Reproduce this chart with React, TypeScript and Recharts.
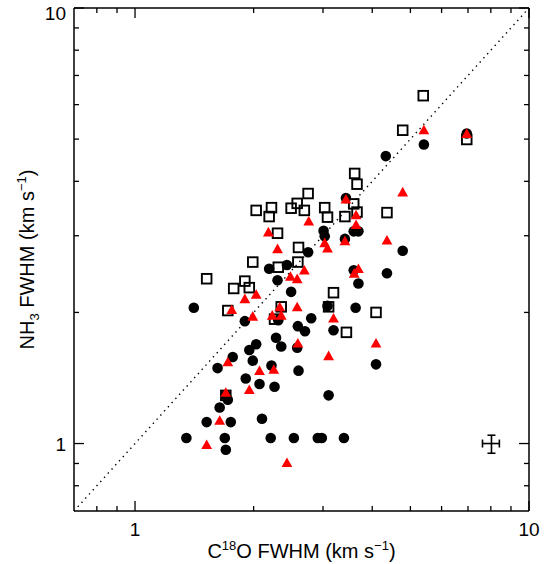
import React from 'react';
import { ScatterChart, Scatter, XAxis, YAxis, ReferenceLine, ErrorBar, Label } from 'recharts';

const FONT = '"Liberation Sans", Arial, Helvetica, sans-serif';

// axis ticks (log scale)
const xTicks = [0.8, 0.9, 1, 2, 3, 4, 5, 6, 7, 8, 9, 10];
const yTicks = [0.8, 0.9, 1, 2, 3, 4, 5, 6, 7, 8, 9, 10];
const majorTicks = [1, 10];
const axisDomain: [number, number] = [0.7, 10];

// filled black circles
const circleX = [5.41, 4.33, 6.95, 3.43, 3.01, 3.03, 3.41, 3.59, 3.69, 2.75, 4.78, 2.19, 2.43, 2.30, 3.59, 3.69, 4.36, 2.49, 1.41, 3.08, 3.63, 2.80, 1.90, 2.31, 2.59, 2.70, 3.19, 2.28, 2.35, 2.58, 2.03, 1.95, 1.77, 1.99, 1.62, 2.22, 2.60, 4.09, 1.91, 2.07, 2.26, 3.10, 1.70, 1.72, 1.64, 1.52, 1.75, 2.10, 1.35, 1.69, 1.70, 2.21, 2.53, 2.91, 2.98, 3.39];
const circleY = [4.86, 4.57, 5.15, 3.66, 3.08, 2.99, 2.95, 3.07, 3.07, 2.75, 2.77, 2.52, 2.57, 2.37, 2.50, 2.33, 2.46, 2.23, 2.05, 2.07, 2.05, 1.94, 1.91, 1.92, 1.86, 1.81, 1.82, 1.75, 1.67, 1.66, 1.69, 1.64, 1.58, 1.55, 1.49, 1.51, 1.47, 1.52, 1.41, 1.37, 1.35, 1.29, 1.29, 1.26, 1.21, 1.12, 1.12, 1.14, 1.03, 1.03, 0.968, 1.03, 1.03, 1.03, 1.03, 1.03];

// open squares
const squareX = [5.39, 4.78, 6.95, 3.61, 3.66, 2.75, 2.58, 2.49, 2.69, 2.03, 2.22, 2.19, 3.03, 3.08, 3.41, 3.59, 3.66, 4.36, 2.30, 2.60, 2.59, 1.99, 2.31, 1.52, 1.90, 1.78, 1.95, 3.19, 3.10, 2.35, 1.72, 4.09, 2.26, 3.44, 1.70];
const squareY = [6.29, 5.24, 4.99, 4.17, 3.94, 3.75, 3.56, 3.47, 3.43, 3.43, 3.48, 3.32, 3.48, 3.31, 3.32, 3.55, 3.40, 3.39, 3.04, 2.82, 2.61, 2.61, 2.54, 2.39, 2.36, 2.27, 2.28, 2.22, 2.06, 2.06, 2.02, 2.00, 1.93, 1.80, 1.29];

// red triangles
const triX = [5.41, 6.95, 4.78, 3.43, 3.64, 3.64, 2.76, 2.18, 2.30, 3.03, 3.08, 3.41, 4.36, 2.69, 2.48, 2.58, 3.60, 3.69, 1.90, 2.03, 1.76, 2.33, 2.58, 1.99, 2.23, 2.35, 3.19, 2.59, 4.09, 3.10, 1.72, 2.07, 2.25, 1.70, 1.95, 1.64, 1.52, 2.43];
const triY = [5.25, 5.15, 3.78, 3.64, 3.35, 3.18, 3.24, 3.06, 2.80, 2.89, 2.81, 2.92, 2.93, 2.50, 2.42, 2.39, 2.46, 2.52, 2.15, 2.20, 2.03, 2.06, 2.06, 1.96, 1.97, 1.97, 1.94, 1.70, 1.70, 1.59, 1.54, 1.47, 1.48, 1.31, 1.33, 1.13, 0.994, 0.904];

// typical error bar
const errX = [8.03];
const errY = [1.0];
const errXLow = [0.41];
const errXHigh = [0.38];
const errYLow = [0.05];
const errYHigh = [0.045];

const toPoints = (xs: number[], ys: number[]) => xs.map((x, i) => ({ x, y: ys[i] }));
const circles = toPoints(circleX, circleY);
const squares = toPoints(squareX, squareY);
const triangles = toPoints(triX, triY);
const errData = errX.map((x, i) => ({
  x,
  y: errY[i],
  ex: [errXLow[i], errXHigh[i]],
  ey: [errYLow[i], errYHigh[i]],
}));

const tickLen = (v: number) => (majorTicks.includes(v) ? 10 : 5);

const BottomTick = (props: any) => {
  const { x, y, payload } = props;
  const v = payload.value;
  return (
    <g>
      <line x1={x} x2={x} y1={y} y2={y - tickLen(v)} stroke="#000" strokeWidth={1.3} />
      {majorTicks.includes(v) && (
        <text x={x} y={y + 25} textAnchor="middle" fontSize={19} fontFamily={FONT} fill="#000">
          {v}
        </text>
      )}
    </g>
  );
};

const TopTick = (props: any) => {
  const { x, y, payload } = props;
  const v = payload.value;
  return <line x1={x} x2={x} y1={y} y2={y + tickLen(v)} stroke="#000" strokeWidth={1.3} />;
};

const LeftTick = (props: any) => {
  const { x, y, payload } = props;
  const v = payload.value;
  return (
    <g>
      <line x1={x} x2={x + tickLen(v)} y1={y} y2={y} stroke="#000" strokeWidth={1.3} />
      {majorTicks.includes(v) && (
        <text x={x - 8} y={Math.max(y + 7, 20)} textAnchor="end" fontSize={19} fontFamily={FONT} fill="#000">
          {v}
        </text>
      )}
    </g>
  );
};

const RightTick = (props: any) => {
  const { x, y, payload } = props;
  const v = payload.value;
  return <line x1={x} x2={x - tickLen(v)} y1={y} y2={y} stroke="#000" strokeWidth={1.3} />;
};

const XTitle = (p: any) => {
  const vb = p.viewBox;
  return (
    <text x={vb.x + vb.width / 2} y={vb.y + 47} textAnchor="middle" fontSize={20} fontFamily={FONT} fill="#000">
      C<tspan dy={-8} fontSize={13}>18</tspan>
      <tspan dy={8}>O FWHM (km s</tspan>
      <tspan dy={-8} fontSize={13}>−1</tspan>
      <tspan dy={8}>)</tspan>
    </text>
  );
};

const YTitle = (p: any) => {
  const vb = p.viewBox;
  const cx = vb.x + 20;
  const cy = vb.y + vb.height / 2;
  return (
    <text x={cx} y={cy} textAnchor="middle" fontSize={20} fontFamily={FONT} fill="#000" transform={`rotate(-90 ${cx} ${cy})`}>
      NH<tspan dy={5} fontSize={13}>3</tspan>
      <tspan dy={-5}> FWHM (km s</tspan>
      <tspan dy={-8} fontSize={13}>−1</tspan>
      <tspan dy={8}>)</tspan>
    </text>
  );
};

const CircleShape = (p: any) => <circle cx={p.cx} cy={p.cy} r={5.3} fill="#000" />;
const SquareShape = (p: any) => (
  <rect x={p.cx - 4.8} y={p.cy - 4.8} width={9.6} height={9.6} fill="none" stroke="#000" strokeWidth={1.9} />
);
const TriShape = (p: any) => (
  <polygon
    points={`${p.cx},${p.cy - 5.2} ${p.cx - 5.4},${p.cy + 4.4} ${p.cx + 5.4},${p.cy + 4.4}`}
    fill="#ff0000"
  />
);
const NoShape = () => <g />;

export default function App() {
  return (
    <div style={{ position: 'absolute', left: 0, top: 0, background: '#fff' }}>
      <ScatterChart width={551} height={564} margin={{ top: 0, right: 12, bottom: 0, left: 14 }}>
        <XAxis
          xAxisId={0}
          dataKey="x"
          type="number"
          scale="log"
          domain={axisDomain}
          allowDataOverflow
          ticks={xTicks}
          interval={0}
          tick={BottomTick}
          tickLine={false}
          tickSize={0}
          tickMargin={0}
          height={53}
          axisLine={{ stroke: '#000', strokeWidth: 1.5 }}
        >
          <Label content={XTitle} />
        </XAxis>
        <XAxis
          xAxisId="top"
          orientation="top"
          dataKey="x"
          type="number"
          scale="log"
          domain={axisDomain}
          allowDataOverflow
          ticks={xTicks}
          interval={0}
          tick={TopTick}
          tickLine={false}
          tickSize={0}
          tickMargin={0}
          height={8}
          axisLine={{ stroke: '#000', strokeWidth: 1.5 }}
        />
        <YAxis
          yAxisId={0}
          dataKey="y"
          type="number"
          scale="log"
          domain={axisDomain}
          allowDataOverflow
          ticks={yTicks}
          interval={0}
          tick={LeftTick}
          tickLine={false}
          tickSize={0}
          tickMargin={0}
          width={60}
          axisLine={{ stroke: '#000', strokeWidth: 1.5 }}
        >
          <Label content={YTitle} />
        </YAxis>
        <YAxis
          yAxisId="right"
          orientation="right"
          dataKey="y"
          type="number"
          scale="log"
          domain={axisDomain}
          allowDataOverflow
          ticks={yTicks}
          interval={0}
          tick={RightTick}
          tickLine={false}
          tickSize={0}
          tickMargin={0}
          width={10}
          axisLine={{ stroke: '#000', strokeWidth: 1.5 }}
        />
        <ReferenceLine
          segment={[{ x: 0.7, y: 0.7 }, { x: 10, y: 10 }]}
          stroke="#000"
          strokeWidth={1.4}
          strokeDasharray="1.4 4.2"
        />
        <Scatter data={circles} shape={CircleShape} isAnimationActive={false} />
        <Scatter data={squares} shape={SquareShape} isAnimationActive={false} />
        <Scatter data={triangles} shape={TriShape} isAnimationActive={false} />
        <Scatter data={errData} shape={NoShape} isAnimationActive={false}>
          <ErrorBar dataKey="ex" direction="x" width={4} stroke="#000" strokeWidth={1.6} isAnimationActive={false} />
          <ErrorBar dataKey="ey" direction="y" width={4} stroke="#000" strokeWidth={1.6} isAnimationActive={false} />
        </Scatter>
      </ScatterChart>
    </div>
  );
}
